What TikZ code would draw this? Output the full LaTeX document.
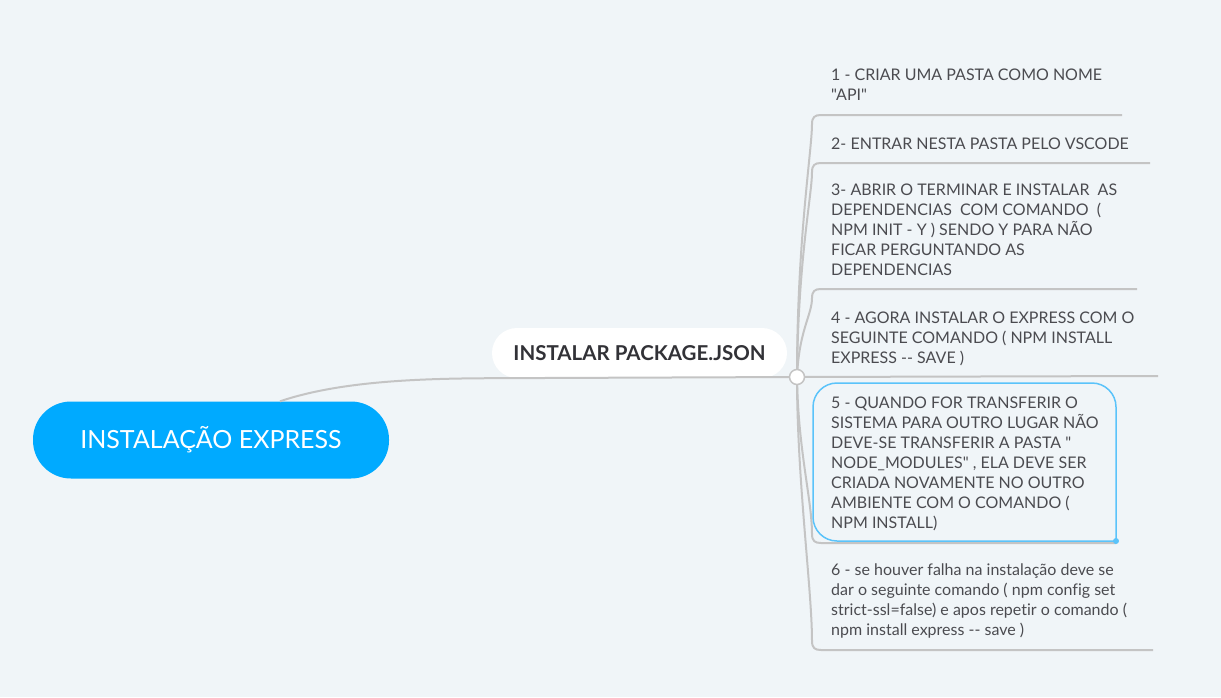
\documentclass[tikz,border=0pt]{standalone}
\usepackage{fontspec}
\setmainfont{Lato}[Ligatures={TeXOff,CommonOff}]
\newcommand{\dq}{\symbol{34}}
\begin{document}
\begin{tikzpicture}[x=1pt,y=-1pt]
\definecolor{bg}{RGB}{240,245,248}
\definecolor{rootblue}{RGB}{0,170,255}
\definecolor{boxblue}{RGB}{90,195,250}
\definecolor{linegray}{RGB}{196,196,196}
\definecolor{leaftext}{RGB}{75,75,80}
\definecolor{childtext}{RGB}{50,50,55}
\tikzset{
  rootnode/.style={fill=rootblue, text=white, minimum width=356pt, minimum height=77pt,
    rounded corners=38pt, inner sep=0pt, font=\fontsize{25}{29}\selectfont},
  childnode/.style={fill=white, text=childtext, minimum width=295pt, minimum height=50pt,
    rounded corners=25pt, inner sep=0pt, font=\bfseries\fontsize{20.5}{24}\selectfont},
  hubnode/.style={circle, draw=linegray, fill=white, line width=1.5pt, minimum size=15pt, inner sep=0pt},
  conn/.style={draw=linegray, line width=2pt},
  leaf/.style={anchor=base west, align=left, inner sep=0pt, text=leaftext,
    font=\fontsize{16}{20}\selectfont},
  bluebox/.style={draw=boxblue, line width=1.5pt, rounded corners=24pt},
}
\path[fill=bg] (0,0) rectangle (1221,697);
\useasboundingbox (0,0) rectangle (1221,697);

% nodes
\node[rootnode] (root) at (211,440) {INSTALAÇÃO EXPRESS};
\node[childnode] (pkg) at (639.5,353) {INSTALAR PACKAGE.JSON};

% underline coordinates
\coordinate (e1) at (1122,115);
\coordinate (e2) at (1150,163);
\coordinate (e3) at (1137,289);
\coordinate (e4) at (1158,376);
\coordinate (e5) at (1116,543);
\coordinate (e6) at (1153,650);

% connector root -> pkg -> hub
\coordinate (hubpos) at (797,377);
\draw[conn] ([xshift=69pt]root.north) .. controls (340,381) and (420,378.5) .. (pkg.south west) -- (hubpos);

% branches up
\draw[conn] (hubpos) .. controls (797,240) and (812,150) .. (812,124) .. controls (812,117) and (815,115) .. (821,115) -- (e1);
\draw[conn] (hubpos) .. controls (798,260) and (812,195) .. (812,172) .. controls (812,165) and (815,163) .. (821,163) -- (e2);
\draw[conn] (hubpos) .. controls (799,330) and (812,315) .. (812,298) .. controls (812,291) and (815,289) .. (821,289) -- (e3);
% branch 4
\draw[conn] (hubpos) -- (e4);
% branches down
\draw[conn] (hubpos) .. controls (798,450) and (812,500) .. (812,534) .. controls (812,541) and (815,543) .. (821,543) -- (e5);
\draw[conn] (hubpos) .. controls (797,480) and (812,590) .. (812,641) .. controls (812,648) and (815,650) .. (821,650) -- (e6);

\node[hubnode] (hub) at (hubpos) {};

% box around item 5
\coordinate (b5) at (1116,541);
\draw[bluebox] (b5) -- (1116,383) -- (813,383) -- (813,541) -- (b5);
\fill[boxblue] (b5) circle (3pt);

% leaf texts (base anchor = baseline of last line)
\node[leaf] (t1) at (831,100) {1 - CRIAR UMA PASTA COMO NOME\\\dq API\dq};
\node[leaf] (t2) at (831,149) {2- ENTRAR NESTA PASTA PELO VSCODE};
\node[leaf] (t3) at (831,275) {3- ABRIR O TERMINAR E INSTALAR\ \ AS\\DEPENDENCIAS\ \ COM COMANDO\ \ (\\NPM INIT - Y ) SENDO Y PARA NÃO\\FICAR PERGUNTANDO AS\\DEPENDENCIAS};
\node[leaf] (t4) at (831,363) {4 - AGORA INSTALAR O EXPRESS COM O\\SEGUINTE COMANDO ( NPM INSTALL\\EXPRESS -{}- SAVE )};
\node[leaf] (t5) at (831,528) {5 - QUANDO FOR TRANSFERIR O\\SISTEMA PARA OUTRO LUGAR NÃO\\DEVE-SE TRANSFERIR A PASTA \dq\\NODE\_MODULES\dq\ , ELA DEVE SER\\CRIADA NOVAMENTE NO OUTRO\\AMBIENTE COM O COMANDO (\\NPM INSTALL)};
\node[leaf] (t6) at (831,635) {6 - se houver falha na instalação deve se\\dar o seguinte comando ( npm config set\\strict-ssl=false) e apos repetir o comando (\\npm install express -{}- save )};
\end{tikzpicture}
\end{document}
